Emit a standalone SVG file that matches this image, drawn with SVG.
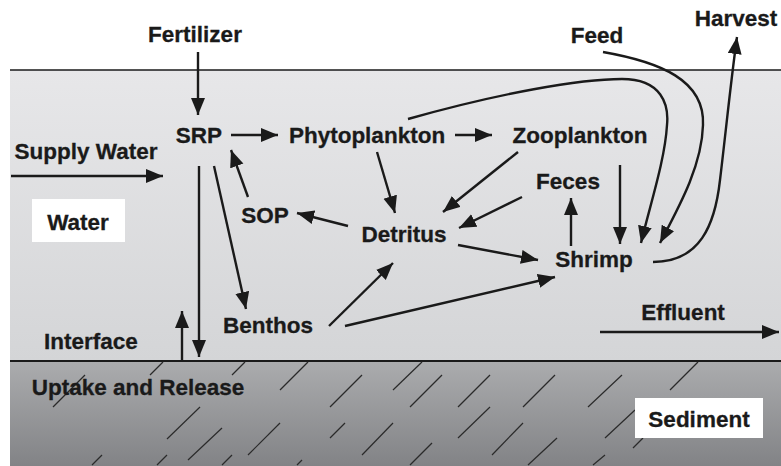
<svg xmlns="http://www.w3.org/2000/svg" width="781" height="466" viewBox="0 0 781 466">
<defs>
<linearGradient id="gw" x1="0" y1="0" x2="0" y2="1"><stop offset="0" stop-color="#e7e7e9"/><stop offset="1" stop-color="#d4d5d7"/></linearGradient>
<linearGradient id="gs" x1="0" y1="0" x2="0" y2="1"><stop offset="0" stop-color="#abacae"/><stop offset="1" stop-color="#828386"/></linearGradient>
<marker id="ah" markerUnits="userSpaceOnUse" markerWidth="18" markerHeight="15" refX="17" refY="7" orient="auto"><path d="M0,0 L17,7 L0,14 z" fill="#1a1a1a"/></marker>
<style>
text{font-family:"Liberation Sans",Arial,sans-serif;font-weight:bold;font-size:22.5px;fill:#1a1a1a;stroke:#1a1a1a;stroke-width:0.3;text-anchor:middle}
.c{fill:none;stroke:#1a1a1a;stroke-width:2.4;marker-end:url(#ah)}
.h{stroke:#2a2a2a;stroke-width:1.2}
</style>
</defs>
<g id="background">
<rect x="10" y="70" width="771" height="291" fill="url(#gw)"/>
<rect x="10" y="361" width="771" height="105" fill="url(#gs)"/>
<line x1="10" y1="70" x2="781" y2="70" stroke="#1a1a1a" stroke-width="1.6"/>
<line x1="10" y1="361" x2="781" y2="361" stroke="#1a1a1a" stroke-width="2.2"/>
<g id="hatch" class="h">
<line x1="163" y1="362" x2="150" y2="375"/>
<line x1="85" y1="375" x2="53" y2="407"/>
<line x1="245" y1="362" x2="232" y2="375"/>
<line x1="308" y1="362" x2="280" y2="390"/>
<line x1="362" y1="375" x2="330" y2="407"/>
<line x1="200" y1="407" x2="167" y2="439"/>
<line x1="222" y1="428" x2="188" y2="460"/>
<line x1="280" y1="423" x2="248" y2="455"/>
<line x1="345" y1="423" x2="330" y2="438"/>
<line x1="393" y1="423" x2="362" y2="455"/>
<line x1="102" y1="455" x2="92" y2="465"/>
<line x1="167" y1="455" x2="157" y2="465"/>
<line x1="232" y1="455" x2="222" y2="465"/>
<line x1="302" y1="460" x2="297" y2="465"/>
<line x1="422" y1="362" x2="393" y2="390"/>
<line x1="442" y1="375" x2="410" y2="407"/>
<line x1="490" y1="375" x2="458" y2="407"/>
<line x1="555" y1="375" x2="523" y2="407"/>
<line x1="622" y1="375" x2="588" y2="407"/>
<line x1="698" y1="362" x2="670" y2="390"/>
<line x1="490" y1="407" x2="458" y2="438"/>
<line x1="523" y1="423" x2="492" y2="455"/>
<line x1="635" y1="410" x2="605" y2="438"/>
<line x1="432" y1="443" x2="410" y2="465"/>
<line x1="557" y1="438" x2="528" y2="465"/>
<line x1="605" y1="455" x2="593" y2="465"/>
<line x1="643" y1="438" x2="633" y2="448"/>
</g>
</g>
<g id="connectors">
<line class="c" x1="198" y1="52" x2="198" y2="115"/>
<line class="c" x1="11" y1="176" x2="163" y2="176"/>
<line class="c" x1="231" y1="135" x2="278" y2="135"/>
<line class="c" x1="455" y1="135" x2="492" y2="135"/>
<line class="c" x1="248" y1="197" x2="231" y2="150"/>
<line class="c" x1="348" y1="226" x2="297" y2="213"/>
<line class="c" x1="377" y1="152" x2="395" y2="213"/>
<line class="c" x1="518" y1="152" x2="443" y2="212"/>
<line class="c" x1="522" y1="197" x2="459" y2="228"/>
<line class="c" x1="458" y1="245" x2="538" y2="260"/>
<line class="c" x1="345" y1="326" x2="555" y2="277"/>
<line class="c" x1="329" y1="326" x2="393" y2="263"/>
<line class="c" x1="214" y1="166" x2="246" y2="309"/>
<line class="c" x1="199" y1="166" x2="199" y2="357"/>
<line class="c" x1="182" y1="361" x2="182" y2="311"/>
<line class="c" x1="571" y1="246" x2="571" y2="198"/>
<line class="c" x1="620" y1="165" x2="620" y2="244"/>
<path class="c" d="M408,119 C500,93 580,79 622,79 C662,79 669,105 667,125 C665,160 650,205 641,243"/>
<path class="c" d="M603,52 C660,62 705,80 703,125 C702,165 680,205 660,243"/>
<path class="c" d="M653,262 C700,262 715,225 720,180 C726,130 731,80 737,37"/>
<line class="c" x1="600" y1="332" x2="779" y2="332"/>
</g>
<g id="fertilizer"><text x="195" y="42">Fertilizer</text></g>
<g id="harvest"><text x="736" y="26">Harvest</text></g>
<g id="feed"><text x="597" y="43">Feed</text></g>
<g id="srp"><text x="199" y="143">SRP</text></g>
<g id="phytoplankton"><text x="367" y="143">Phytoplankton</text></g>
<g id="zooplankton"><text x="580" y="143">Zooplankton</text></g>
<g id="supply-water"><text x="86" y="159">Supply Water</text></g>
<g id="feces"><text x="568" y="189">Feces</text></g>
<g id="sop"><text x="265" y="223">SOP</text></g>
<g id="detritus"><text x="404" y="242">Detritus</text></g>
<g id="shrimp"><text x="594" y="267">Shrimp</text></g>
<g id="benthos"><text x="268" y="333">Benthos</text></g>
<g id="interface"><text x="91" y="349">Interface</text></g>
<g id="effluent"><text x="683" y="320">Effluent</text></g>
<g id="uptake"><text x="138" y="395">Uptake and Release</text></g>
<g id="water"><rect x="32" y="199" width="93" height="43" fill="#ffffff"/><text x="78" y="230">Water</text></g>
<g id="sediment"><rect x="635" y="398" width="128" height="40" fill="#ffffff"/><text x="699" y="427">Sediment</text></g>
</svg>
